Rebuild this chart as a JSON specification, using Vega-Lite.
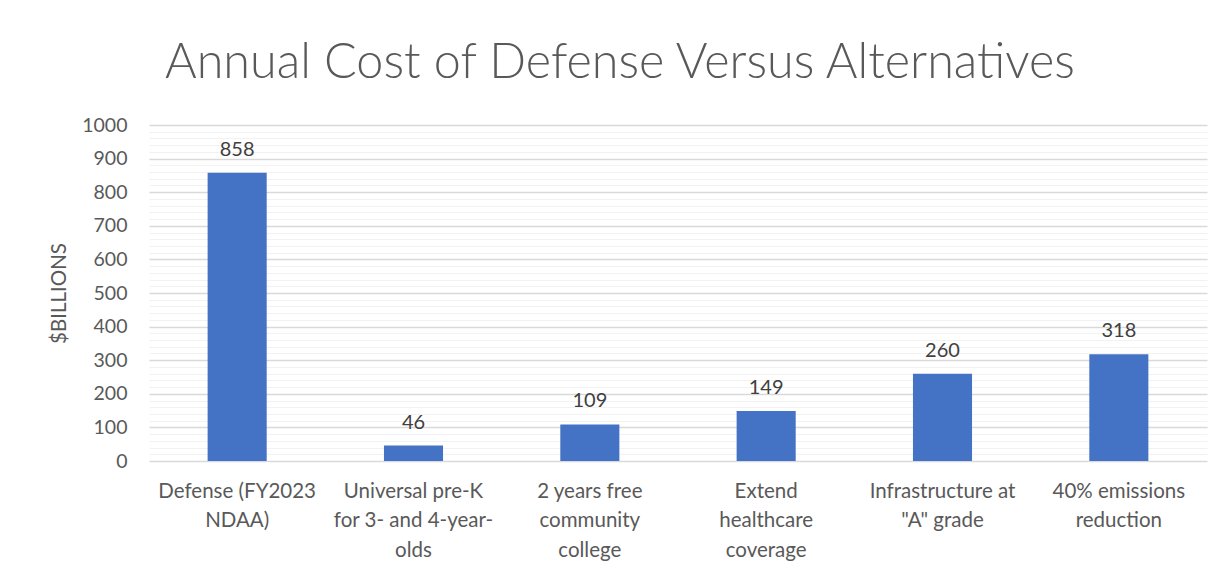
{
  "$schema": "https://vega.github.io/schema/vega-lite/v6.json",
  "autosize": {"type": "none"},
  "width": 1058,
  "height": 336,
  "padding": {"left": 149, "top": 125, "right": 19, "bottom": 118},
  "background": "white",
  "config": {"view": {"stroke": null}, "font": "Lato"},
  "title": {
    "text": "Annual Cost of Defense Versus Alternatives",
    "fontSize": 48.5,
    "fontWeight": 300,
    "font": "Lato",
    "color": "#595959",
    "anchor": "middle",
    "frame": "group",
    "dx": -58,
    "offset": 27
  },
  "data": {
    "values": [
      {"category": "Defense (FY2023|NDAA)", "value": 858},
      {"category": "Universal pre-K|for 3- and 4-year-|olds", "value": 46},
      {"category": "2 years free|community|college", "value": 109},
      {"category": "Extend|healthcare|coverage", "value": 149},
      {"category": "Infrastructure at|\"A\" grade", "value": 260},
      {"category": "40% emissions|reduction", "value": 318}
    ]
  },
  "encoding": {
    "x": {
      "field": "category",
      "type": "nominal",
      "sort": null,
      "scale": {"paddingInner": 0.665, "paddingOuter": 0.3325},
      "axis": {
        "title": null,
        "labelAngle": 0,
        "labelExpr": "split(datum.label, '|')",
        "labelFontSize": 20.5,
        "labelColor": "#595959",
        "labelLineHeight": 29.5,
        "labelPadding": 20,
        "labelBaseline": "top",
        "ticks": false,
        "domain": false,
        "labelLimit": 300
      }
    },
    "y": {
      "field": "value",
      "type": "quantitative",
      "scale": {"domain": [0, 1000], "nice": false},
      "axis": {
        "title": "$BILLIONS",
        "titleFontSize": 20.5,
        "titleFontWeight": "normal",
        "titleColor": "#595959",
        "titlePadding": 12,
        "values": [0,20,40,60,80,100,120,140,160,180,200,220,240,260,280,300,320,340,360,380,400,420,440,460,480,500,520,540,560,580,600,620,640,660,680,700,720,740,760,780,800,820,840,860,880,900,920,940,960,980,1000],
        "labelExpr": "datum.value % 100 === 0 ? datum.label : ''",
        "labelFontSize": 19.5,
        "labelColor": "#595959",
        "labelPadding": 22,
        "ticks": false,
        "domain": false,
        "grid": true,
        "gridColor": {"condition": {"test": "datum.value % 100 === 0", "value": "#d9d9d9"}, "value": "#f2f2f2"},
        "gridWidth": {"condition": {"test": "datum.value % 100 === 0", "value": 1.5}, "value": 1},
        "format": "d"
      }
    }
  },
  "layer": [
    {"mark": {"type": "bar", "color": "#4472C4"}},
    {
      "mark": {"type": "text", "baseline": "bottom", "dy": -13, "fontSize": 20, "color": "#404040"},
      "encoding": {"text": {"field": "value", "type": "quantitative"}}
    }
  ]
}
